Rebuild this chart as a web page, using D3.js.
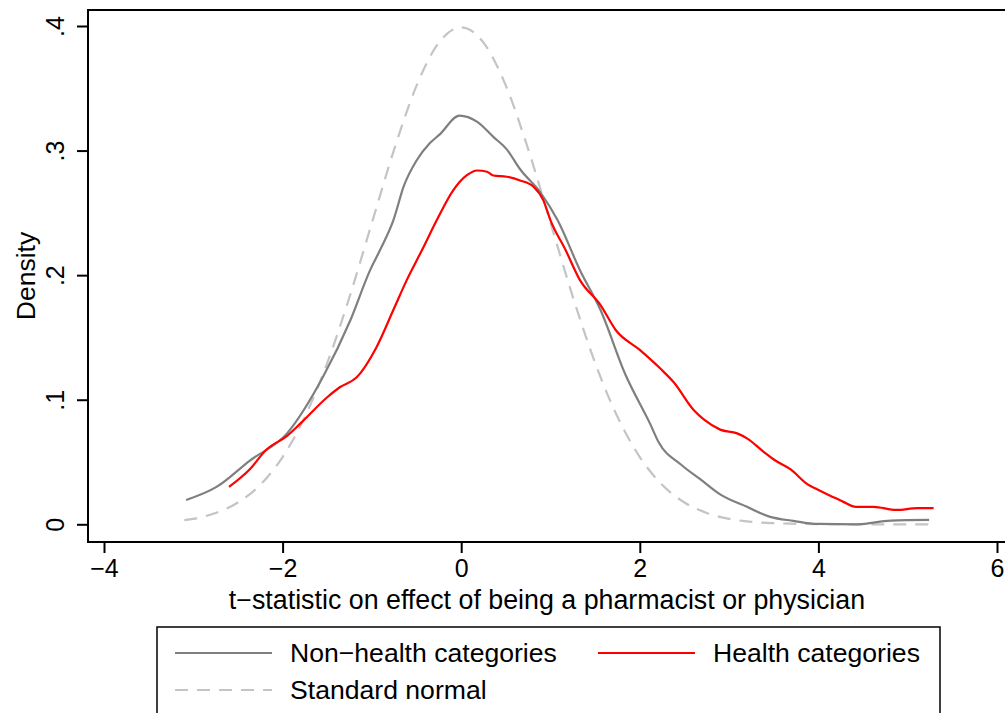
<!DOCTYPE html>
<html>
<head>
<meta charset="utf-8">
<script src="https://cdn.jsdelivr.net/npm/d3@7"></script>
<style>
  body { margin: 0; background: #fff; }
  svg { display: block; font-family: "Liberation Sans", Arial, sans-serif; }
</style>
</head>
<body>
<div id="chart"></div>
<script>
(function () {
  'use strict';

  var w = 1005,
      h = 713;

  // kernel density, non-health categories: [t, density]
  var nonHealth = [
    [-3.08, 0.0195], [-2.74, 0.030], [-2.37, 0.051], [-1.95, 0.073],
    [-1.55, 0.118], [-1.24, 0.164], [-1.02, 0.204], [-0.91, 0.220],
    [-0.76, 0.244], [-0.64, 0.272], [-0.50, 0.292], [-0.35, 0.306],
    [-0.24, 0.313], [-0.02, 0.328], [0.18, 0.323], [0.36, 0.311],
    [0.51, 0.301], [0.66, 0.285], [0.89, 0.266], [1.08, 0.244],
    [1.33, 0.204], [1.56, 0.172], [1.84, 0.120], [2.12, 0.080],
    [2.21, 0.066], [2.46, 0.048], [2.68, 0.036], [2.90, 0.024],
    [3.20, 0.014], [3.46, 0.006], [3.72, 0.0028], [3.99, 0.0003],
    [4.44, 0.0], [4.81, 0.003], [5.24, 0.0035]
  ];

  // kernel density, health categories: [t, density]
  var health = [
    [-2.60, 0.030], [-2.37, 0.044], [-2.18, 0.060], [-1.95, 0.071],
    [-1.80, 0.081], [-1.50, 0.102], [-1.36, 0.110], [-1.17, 0.118],
    [-0.95, 0.142], [-0.76, 0.172], [-0.61, 0.196], [-0.44, 0.220],
    [-0.26, 0.246], [-0.09, 0.268], [0.06, 0.280], [0.18, 0.284],
    [0.29, 0.283], [0.36, 0.280], [0.51, 0.279], [0.66, 0.276],
    [0.81, 0.271], [0.92, 0.260], [1.00, 0.244], [1.17, 0.220],
    [1.33, 0.196], [1.56, 0.176], [1.73, 0.156], [2.00, 0.140],
    [2.23, 0.125], [2.38, 0.114], [2.60, 0.092], [2.72, 0.084],
    [2.90, 0.076], [3.09, 0.073], [3.20, 0.069], [3.39, 0.058],
    [3.50, 0.052], [3.69, 0.044], [3.88, 0.032], [3.99, 0.028],
    [4.16, 0.022], [4.28, 0.018], [4.42, 0.014], [4.62, 0.014],
    [4.87, 0.0115], [5.11, 0.013], [5.29, 0.013]
  ];

  // standard normal reference curve: [t, density]
  var stdNormal = [
    [-3.10, 0.0033], [-3.00, 0.0044], [-2.75, 0.0091], [-2.50, 0.0175],
    [-2.25, 0.0317], [-2.00, 0.0540], [-1.75, 0.0863], [-1.50, 0.1295],
    [-1.25, 0.1826], [-1.00, 0.2420], [-0.75, 0.3011], [-0.50, 0.3521],
    [-0.25, 0.3867], [0.00, 0.3989], [0.25, 0.3867], [0.50, 0.3521],
    [0.75, 0.3011], [1.00, 0.2420], [1.25, 0.1826], [1.50, 0.1295],
    [1.75, 0.0863], [2.00, 0.0540], [2.25, 0.0317], [2.50, 0.0175],
    [2.75, 0.0091], [3.00, 0.0044], [3.25, 0.0020], [3.50, 0.0009],
    [3.75, 0.0004], [4.00, 0.0001], [4.50, 0.0], [5.30, 0.0]
  ];

  var xTicks = [-4, -2, 0, 2, 4, 6],
      yTicks = [0, 0.1, 0.2, 0.3, 0.4],
      yTickLabels = ['0', '.1', '.2', '.3', '.4'];

  var legendItems = [
    {label: 'Non\u2212health categories', color: '#7f7f7f', dash: null, col: 0, row: 0},
    {label: 'Health categories', color: '#ff0000', dash: null, col: 1, row: 0},
    {label: 'Standard normal', color: '#c4c4c4', dash: '13,9', col: 0, row: 1}
  ];

  var svg = d3.select('#chart')
    .append('svg')
    .attr('width', w)
    .attr('height', h);

  var x = d3.scaleLinear().domain([-4, 6]).range([104, 997]);
  var y = d3.scaleLinear().domain([0, 0.4]).range([524.3, 26]);

  // plot region frame
  svg.append('rect')
    .attr('x', 88).attr('y', 10)
    .attr('width', 924).attr('height', 532)
    .attr('fill', 'none')
    .attr('stroke', '#000')
    .attr('stroke-width', 2);

  var xAxis = svg.append('g')
    .attr('transform', 'translate(0,542)')
    .call(d3.axisBottom(x).tickValues(xTicks).tickSize(11).tickPadding(6)
      .tickFormat(function (d) { return d < 0 ? '\u2212' + Math.abs(d) : String(d); }));
  xAxis.select('.domain').remove();
  xAxis.selectAll('line').attr('stroke', '#000').attr('stroke-width', 2);
  xAxis.selectAll('text')
    .attr('font-size', 25).attr('font-family', 'Liberation Sans, Arial, sans-serif')
    .attr('fill', '#000').attr('dy', null).attr('y', 35);

  var yAxis = svg.append('g')
    .attr('transform', 'translate(88,0)')
    .call(d3.axisLeft(y).tickValues(yTicks).tickSize(11)
      .tickFormat(function (d, i) { return yTickLabels[i]; }));
  yAxis.select('.domain').remove();
  yAxis.selectAll('line').attr('stroke', '#000').attr('stroke-width', 2);
  yAxis.selectAll('text')
    .attr('font-size', 25).attr('font-family', 'Liberation Sans, Arial, sans-serif')
    .attr('fill', '#000')
    .attr('x', null).attr('dy', null)
    .attr('text-anchor', 'middle')
    .attr('transform', 'translate(-24,0) rotate(-90)');

  svg.append('text')
    .attr('x', 547).attr('y', 609)
    .attr('text-anchor', 'middle')
    .attr('font-size', 26.8)
    .text('t\u2212statistic on effect of being a pharmacist or physician');

  svg.append('text')
    .attr('transform', 'translate(35,276) rotate(-90)')
    .attr('text-anchor', 'middle')
    .attr('font-size', 26.5)
    .text('Density');

  var line = d3.line()
    .x(function (d) { return x(d[0]); })
    .y(function (d) { return y(d[1]); })
    .curve(d3.curveMonotoneX);

  svg.append('path')
    .attr('d', line(stdNormal))
    .attr('fill', 'none')
    .attr('stroke', '#c4c4c4')
    .attr('stroke-width', 2.2)
    .attr('stroke-dasharray', '13,9');

  svg.append('path')
    .attr('d', line(nonHealth))
    .attr('fill', 'none')
    .attr('stroke', '#7f7f7f')
    .attr('stroke-width', 2.2);

  svg.append('path')
    .attr('d', line(health))
    .attr('fill', 'none')
    .attr('stroke', '#ff0000')
    .attr('stroke-width', 2.2);

  // legend
  var legend = svg.append('g');
  legend.append('rect')
    .attr('x', 157).attr('y', 627)
    .attr('width', 783).attr('height', 120)
    .attr('fill', '#fff')
    .attr('stroke', '#000')
    .attr('stroke-width', 1.5);

  var colX = [175, 598],
      rowY = [653, 690];

  var item = legend.selectAll('g.item')
    .data(legendItems)
    .enter()
    .append('g')
    .attr('class', 'item')
    .attr('transform', function (d) { return 'translate(' + colX[d.col] + ',' + rowY[d.row] + ')'; });

  item.append('line')
    .attr('x1', 0).attr('x2', 97)
    .attr('y1', 0).attr('y2', 0)
    .attr('stroke', function (d) { return d.color; })
    .attr('stroke-width', 2.2)
    .attr('stroke-dasharray', function (d) { return d.dash; });

  item.append('text')
    .attr('x', 115).attr('y', 9)
    .attr('font-size', 26.6)
    .text(function (d) { return d.label; });
}());
</script>
</body>
</html>
